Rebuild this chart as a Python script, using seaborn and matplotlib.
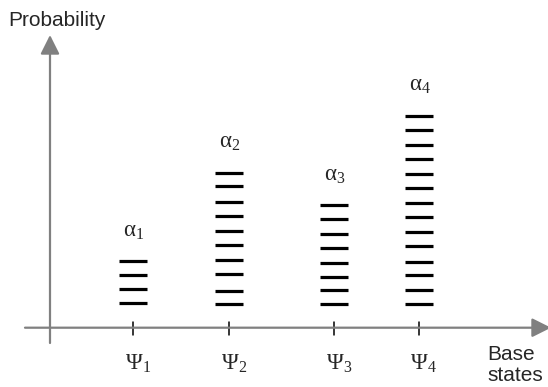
import matplotlib
matplotlib.use("Agg")
import matplotlib.pyplot as plt
import numpy as np
import pandas as pd
import seaborn as sns

# ---- data ----
states = ["Ψ1", "Ψ2", "Ψ3", "Ψ4"]
state_sub = ["1", "2", "3", "4"]
state_pos = [83, 179, 284, 368.5]
levels_1 = [66.4, 52.4, 38.4, 24.5]
levels_2 = [155, 141.4, 126, 112, 96.7, 83, 67.7, 54, 37, 23.4]
levels_3 = [122.4, 109, 93.7, 80, 65, 50.7, 37.4, 23.4]
levels_4 = [211.7, 198, 182.4, 169, 153.4, 140, 124.4, 111, 95.4, 82, 66, 52.7, 37.4, 23.4]
alpha_labels = ["1", "2", "3", "4"]

all_levels = [levels_1, levels_2, levels_3, levels_4]
df = pd.DataFrame({
    "state": [s for s, lv in zip(states, all_levels) for _ in lv],
    "x": [p for p, lv in zip(state_pos, all_levels) for _ in lv],
    "level": [v for lv in all_levels for v in lv],
})

sns.set_style("white")
plt.rcParams["font.family"] = ["Liberation Sans", "DejaVu Sans"]
plt.rcParams["mathtext.fontset"] = "custom"
plt.rcParams["mathtext.rm"] = "Liberation Serif"
plt.rcParams["mathtext.it"] = "Liberation Serif"

fig = plt.figure(figsize=(5.48, 3.87), dpi=100)
ax = fig.add_axes([0, 0, 1, 1])
ax.set_xlim(-50, 498)
ax.set_ylim(-59.3, 327.7)
ax.axis("off")

gray = "#808080"
# axes with arrows
ax.annotate("", xy=(0, 292.7), xytext=(0, -15.3), annotation_clip=False,
            arrowprops=dict(arrowstyle="-|>", color=gray, lw=1.6,
                            mutation_scale=29, shrinkA=0, shrinkB=0))
ax.annotate("", xy=(501, 0), xytext=(-25, 0), annotation_clip=False,
            arrowprops=dict(arrowstyle="-|>", color=gray, lw=1.6,
                            mutation_scale=29, shrinkA=0, shrinkB=0))

# ticks
for p in state_pos:
    ax.plot([p, p], [-7.3, 5.7], color="black", lw=1.1)

# dashes
sns.scatterplot(data=df, x="x", y="level", marker="_", s=19.5**2,
                color="black", linewidth=2.3, ax=ax, legend=False, zorder=3)

# alpha labels
for p, lv, a in zip(state_pos, all_levels, alpha_labels):
    ax.text(p + 1, max(lv) + 31, r"$\mathrm{\alpha}_{" + a + "}$",
            ha="center", va="center", fontsize=16.5)

# psi labels
for p, sub in zip(state_pos, state_sub):
    ax.text(p + 5, -36, r"$\mathrm{\Psi}_{" + sub + "}$",
            ha="center", va="center", fontsize=16.5)

ax.text(-42, 307.7, "Probability", ha="left", va="center", fontsize=15)
ax.text(437, -37.5, "Base\nstates", ha="left", va="center", fontsize=15,
        linespacing=1.1)

fig.savefig("out.png", dpi=100)
